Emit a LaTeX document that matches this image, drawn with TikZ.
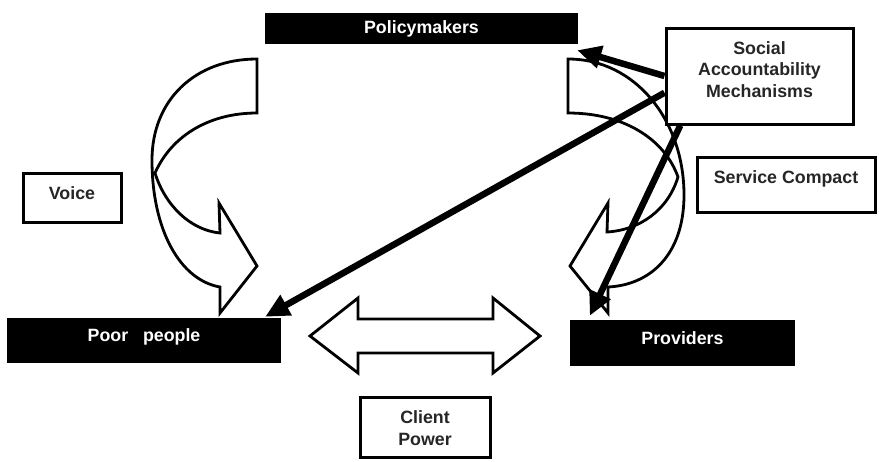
\documentclass[tikz,border=0pt]{standalone}
\usepackage{fontspec}
\setmainfont{Liberation Sans}
\usetikzlibrary{arrows.meta,calc}
\begin{document}
\begin{tikzpicture}[x=1pt,y=-1pt,
    boxfont/.style={font=\bfseries\fontsize{17.8}{21.5}\selectfont},
    darkbox/.style={boxfont,fill=black,text=white,inner sep=0pt},
    lightbox/.style={boxfont,draw=black,line width=3pt,fill=white,text=black!85,inner sep=0pt,align=center},
    bendarrow/.style={draw=black,line width=2.8pt,fill=white,line join=miter},
    push/.style={draw=black,line width=6.5pt,-{Triangle[length=24pt,width=22pt]}}]
      \useasboundingbox (0,0) rectangle (879,461);
      \draw[bendarrow]
        (257,59) .. controls (195,59) and (152,100) .. (152,160)
        .. controls (152,230) and (180,280) .. (220,287)
        -- (220,313) -- (257,266) -- (219,203) -- (220,233)
        .. controls (190,230) and (165,205) .. (155,173)
        .. controls (172,135) and (210,113) .. (257,113) -- cycle;
      \draw[bendarrow]
        (568,59) .. controls (635,59) and (684,120) .. (684,195)
        .. controls (684,255) and (650,285) .. (608,287)
        -- (608,313) -- (570,266) -- (608,203) -- (607,232)
        .. controls (640,230) and (668,210) .. (678,177)
        .. controls (665,140) and (625,113) .. (568,113) -- cycle;
      \draw[bendarrow]
        (310,336) -- (358,298) -- (358,319) -- (493,319) -- (493,298)
        -- (540,336) -- (493,373) -- (493,353) -- (358,353) -- (358,373) -- cycle;
      \draw
        (421.5,28.5) node[darkbox,minimum width=313pt,text height=20.5pt,text depth=10.5pt] (policy){Policymakers}
        (759.5,76) node[lightbox,minimum width=187pt,text height=69.3pt,text depth=26.7pt] (sam){Social\\Accountability\\Mechanisms}
        (72,197.5) node[lightbox,minimum width=98pt,text height=26pt,text depth=23pt] (voice){Voice}
        (786,184.5) node[lightbox,minimum width=178pt,text height=26.3pt,text depth=28.7pt] (compact){Service Compact}
        (144,340.5) node[darkbox,minimum width=274pt,text height=23.7pt,text depth=21.3pt] (poor){Poor~~~people}
        (682.5,343) node[darkbox,minimum width=225pt,text height=24pt,text depth=22pt] (providers){Providers}
        (425,427) node[lightbox,minimum width=130pt,text height=48pt,text depth=12pt] (client){Client\\Power};
      \begin{scope}[push]
        \draw (sam.west) to ($(policy.south east)+(-1,6)$);
        \draw (sam.190) to ($(poor.north east)+(-16,-1)$);
        \draw (sam.212) to ($(providers.north west)+(20,-4)$);
      \end{scope}
    \end{tikzpicture}
\end{document}
